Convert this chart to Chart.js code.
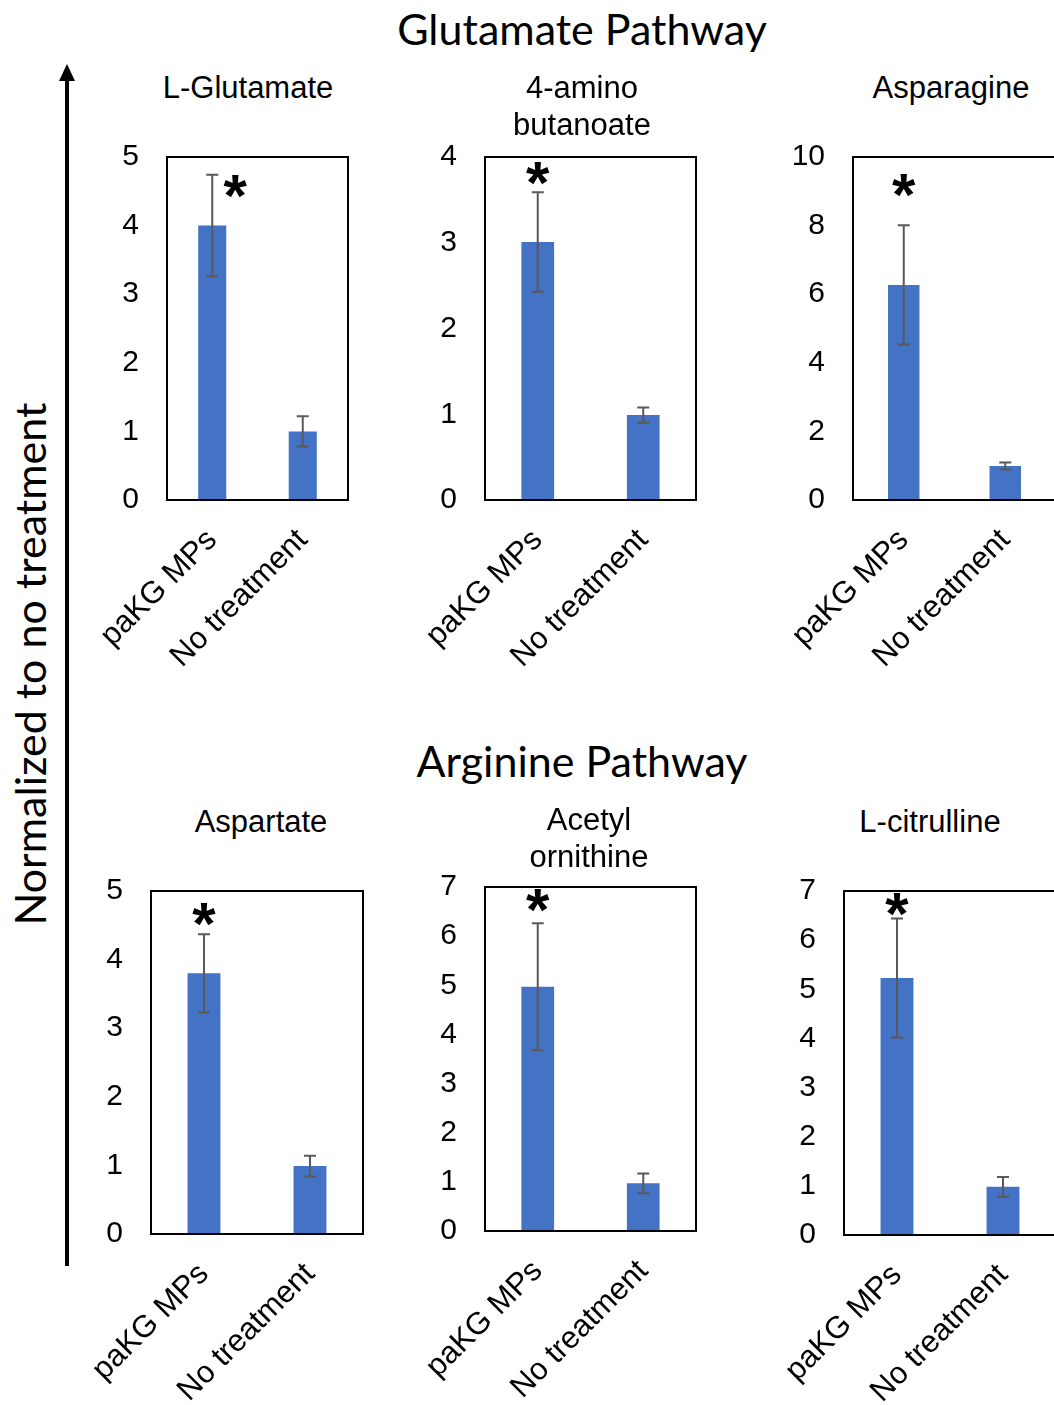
<!DOCTYPE html>
<html>
<head>
<meta charset="utf-8">
<script src="https://cdn.jsdelivr.net/npm/chart.js@4.4.1/dist/chart.umd.min.js"></script>
<style>
    body { margin: 0; width: 1054px; height: 1405px; overflow: hidden; background: #fff; position: relative; font-family: "Liberation Sans", Arial, sans-serif; }
    canvas { position: absolute; }
    .lbl { position: absolute; transform: translate(-50%, -50%); white-space: nowrap; text-align: center; color: #000; }
    .sub { font-size: 31px; line-height: 37px; }
    .head { font-family: Lato, sans-serif; font-size: 43px; }
</style>
</head>
<body>
<svg style="position:absolute;left:0;top:0" width="100" height="1300">
    <line x1="67" y1="1266" x2="67" y2="78" stroke="#000" stroke-width="4"/>
    <polygon points="59,81 75,81 67,64" fill="#000"/>
</svg>
<div class="lbl head" style="left:582px;top:28px">Glutamate Pathway</div>
<div class="lbl head" style="left:582px;top:760px">Arginine Pathway</div>
<div class="lbl head" style="left:29px;top:664px;transform:translate(-50%,-50%) rotate(-90deg)">Normalized to no treatment</div>

<script>
// values
var categories = ["paKG MPs", "No treatment"];
var panelTitles = [["L-Glutamate"], ["4-amino", "butanoate"], ["Asparagine"],
                   ["Aspartate"], ["Acetyl", "ornithine"], ["L-citrulline"]];
var meanValues = [[4.00, 1.00], [3.01, 0.99], [6.27, 0.99], [3.80, 0.99], [4.97, 0.97], [5.23, 0.98]];
var errValues = [[0.74, 0.22], [0.58, 0.09], [1.74, 0.10], [0.57, 0.15], [1.29, 0.20], [1.21, 0.20]];
var yMax = [5, 4, 10, 5, 7, 7];
var yStep = [1, 1, 2, 1, 1, 1];
var starMark = "*";

// layout of each small chart: plot box [left, top, right, bottom], title centre, star place
var panels = [
    { box: [167, 157, 348, 500], tx: 248, ty: 87, star: [23, 4.59] },
    { box: [485, 157, 696, 500], tx: 582, ty: 106, star: [0, 3.82] },
    { box: [853, 157, 1056, 500], tx: 951, ty: 87, star: [0, 9.2] },
    { box: [151, 891, 363, 1234], tx: 261, ty: 821, star: [0, 4.68] },
    { box: [485, 887, 696, 1231], tx: 589, ty: 838, star: [0, 6.76] },
    { box: [844, 891, 1056, 1235], tx: 930, ty: 821, star: [0, 6.76] }
];

var boxPlugin = {
    id: 'boxPlugin',
    afterDraw: function (chart) {
        var a = chart.chartArea, ctx = chart.ctx;
        ctx.save();
        ctx.strokeStyle = '#000';
        ctx.lineWidth = 2;
        ctx.strokeRect(a.left, a.top, a.right - a.left, a.bottom - a.top);
        ctx.restore();
    }
};

var errPlugin = {
    id: 'errPlugin',
    afterDatasetsDraw: function (chart) {
        var ctx = chart.ctx, y = chart.scales.y;
        var ds = chart.data.datasets[0];
        var meta = chart.getDatasetMeta(0);
        ctx.save();
        ctx.strokeStyle = '#595959';
        ctx.lineWidth = 2;
        meta.data.forEach(function (bar, j) {
            var v = ds.data[j], e = ds.errors[j];
            var top = y.getPixelForValue(v + e), bot = y.getPixelForValue(v - e);
            ctx.beginPath();
            ctx.moveTo(bar.x, top); ctx.lineTo(bar.x, bot);
            ctx.moveTo(bar.x - 6, top); ctx.lineTo(bar.x + 6, top);
            ctx.moveTo(bar.x - 6, bot); ctx.lineTo(bar.x + 6, bot);
            ctx.stroke();
        });
        // significance star over first bar
        var p = chart.options.plugins.errPlugin;
        var first = meta.data[0];
        ctx.fillStyle = '#000';
        ctx.font = 'bold 60px "Liberation Sans", Arial, sans-serif';
        ctx.textAlign = 'center';
        ctx.textBaseline = 'alphabetic';
        ctx.fillText(starMark, first.x + p.dx, y.getPixelForValue(p.level) + 31);
        ctx.restore();
    }
};

function makePanel(i) {
    var p = panels[i];
    var L = p.box[0], T = p.box[1], R = p.box[2], B = p.box[3];
    var padL = 95, padT = 24, padR = 20, padB = 200;

    var canvas = document.createElement('canvas');
    canvas.width = R - L + padL + padR;
    canvas.height = B - T + padT + padB;
    canvas.style.left = (L - padL) + 'px';
    canvas.style.top = (T - padT) + 'px';
    document.body.appendChild(canvas);

    var t = document.createElement('div');
    t.className = 'lbl sub';
    t.style.left = p.tx + 'px';
    t.style.top = p.ty + 'px';
    t.innerHTML = panelTitles[i].join('<br>');
    document.body.appendChild(t);

    new Chart(canvas, {
        type: 'bar',
        data: {
            labels: categories,
            datasets: [{
                data: meanValues[i],
                errors: errValues[i],
                backgroundColor: '#4472C4',
                barPercentage: 0.31,
                categoryPercentage: 1
            }]
        },
        options: {
            responsive: false,
            animation: false,
            devicePixelRatio: 1,
            layout: { padding: { top: padT, right: padR, left: 0, bottom: 0 } },
            plugins: {
                legend: { display: false },
                tooltip: { enabled: false },
                errPlugin: { dx: p.star[0], level: p.star[1] }
            },
            scales: {
                x: {
                    grid: { display: false, drawTicks: false },
                    border: { display: false },
                    ticks: {
                        color: '#000', padding: 22, minRotation: 45, maxRotation: 45,
                        font: { size: 31, family: '"Liberation Sans", Arial, sans-serif' }
                    },
                    afterFit: function (s) { s.height = padB; s.paddingLeft = 0; s.paddingRight = 0; }
                },
                y: {
                    min: 0, max: yMax[i],
                    grid: { display: false, drawTicks: false },
                    border: { display: false },
                    ticks: {
                        stepSize: yStep[i], color: '#000', padding: 28,
                        font: { size: 30, family: '"Liberation Sans", Arial, sans-serif' }
                    },
                    afterFit: function (s) { s.width = padL; s.paddingTop = 0; s.paddingBottom = 0; }
                }
            }
        },
        plugins: [boxPlugin, errPlugin]
    });
}

for (var i = 0; i < panels.length; i++) {
    makePanel(i);
}
</script>
</body>
</html>
